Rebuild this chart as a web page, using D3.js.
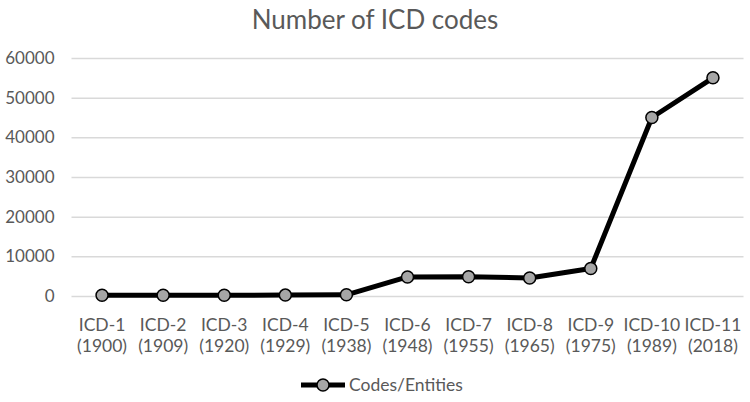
<!DOCTYPE html>
<html><head><meta charset="utf-8">
<script src="https://cdn.jsdelivr.net/npm/d3@7"></script>
<style>body{margin:0;background:#fff}svg{display:block}</style>
</head><body><svg id="c" width="750" height="402"></svg>
<script>
const categories = ["ICD-1","ICD-2","ICD-3","ICD-4","ICD-5","ICD-6","ICD-7","ICD-8","ICD-9","ICD-10","ICD-11"];
const years = ["(1900)","(1909)","(1920)","(1929)","(1938)","(1948)","(1955)","(1965)","(1975)","(1989)","(2018)"];
const values = [180, 190, 205, 230, 300, 4800, 4850, 4550, 6950, 45000, 55000];
const yTicks = [0,10000,20000,30000,40000,50000,60000];
const seriesName = "Codes/Entities";
const title = "Number of ICD codes";

const svg = d3.select("#c");
const font = "Lato, 'Open Sans', sans-serif";
const textColor = "#595959";
const x = d3.scaleBand().domain(categories).range([71.5, 743.5]);
const y = d3.scaleLinear().domain([0,60000]).range([296, 58]);

svg.append("text").attr("x",375).attr("y",29).attr("text-anchor","middle")
  .attr("font-family",font).attr("font-size",26).attr("fill",textColor).text(title);

const yAxis = d3.axisLeft(y).tickValues(yTicks).tickSize(-(743.5-71.5)).tickFormat(d3.format("d"));
const gy = svg.append("g").attr("transform","translate(71.5,0)").call(yAxis);
gy.select(".domain").remove();
gy.selectAll(".tick line").attr("stroke","#d9d9d9").attr("stroke-width",1.5);
gy.selectAll(".tick text").attr("x",-17).attr("font-family",font).attr("font-size",17).attr("fill",textColor);

const xAxis = d3.axisBottom(x).tickSize(0).tickFormat(() => "");
const gx = svg.append("g").attr("transform","translate(0,296)").call(xAxis);
gx.select(".domain").remove();
gx.selectAll(".tick").each(function(d,i){
  const t = d3.select(this).append("text").attr("text-anchor","middle")
    .attr("font-family",font).attr("font-size",17.5).attr("fill",textColor);
  t.append("tspan").attr("x",0).attr("y",35).text(d);
  t.append("tspan").attr("x",0).attr("y",56).text(years[i]);
});

const line = d3.line().x((d,i)=>x(categories[i])+x.bandwidth()/2).y(d=>y(d));
svg.append("path").datum(values).attr("d",line).attr("fill","none")
  .attr("stroke","#000").attr("stroke-width",5).attr("stroke-linejoin","round");
svg.selectAll("circle.pt").data(values).enter().append("circle").attr("class","pt")
  .attr("cx",(d,i)=>x(categories[i])+x.bandwidth()/2).attr("cy",d=>y(d)).attr("r",6)
  .attr("fill","#a6a6a6").attr("stroke","#000").attr("stroke-width",1.5);

const lg = svg.append("g").attr("transform","translate(0,385)");
lg.append("line").attr("x1",301).attr("x2",345).attr("y1",0).attr("y2",0).attr("stroke","#000").attr("stroke-width",5);
lg.append("circle").attr("cx",323).attr("cy",0).attr("r",6).attr("fill","#a6a6a6").attr("stroke","#000").attr("stroke-width",1.5);
lg.append("text").attr("x",349).attr("y",6).attr("font-family",font).attr("font-size",17.5).attr("fill",textColor).text(seriesName);
</script></body></html>
